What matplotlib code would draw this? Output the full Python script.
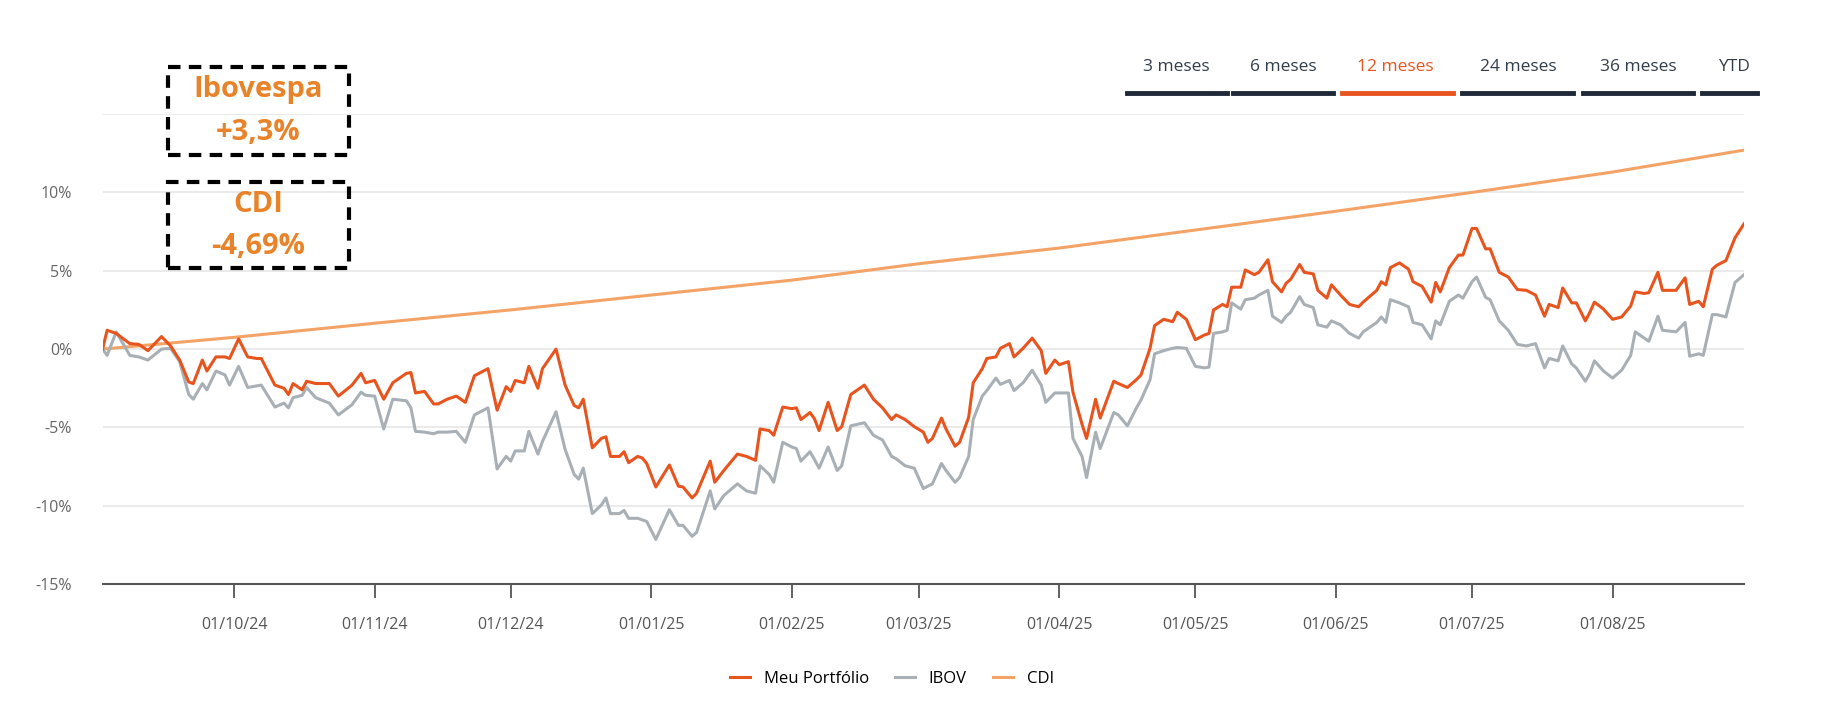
import matplotlib
matplotlib.use("Agg")
import matplotlib.pyplot as plt
import matplotlib.dates as mdates
import pandas as pd
from matplotlib.patches import Rectangle

plt.rcParams['font.family'] = ['Open Sans', 'DejaVu Sans']

dates = ["2024-09-02","2024-09-03","2024-09-05","2024-09-08","2024-09-10","2024-09-12","2024-09-15","2024-09-17","2024-09-19","2024-09-21",
"2024-09-22","2024-09-24","2024-09-25","2024-09-27","2024-09-29","2024-09-30","2024-10-02","2024-10-04","2024-10-06","2024-10-07",
"2024-10-10","2024-10-12","2024-10-13","2024-10-14","2024-10-16","2024-10-17","2024-10-19","2024-10-22","2024-10-24","2024-10-27",
"2024-10-29","2024-10-30","2024-11-01","2024-11-03","2024-11-05","2024-11-08","2024-11-09","2024-11-10","2024-11-12","2024-11-14",
"2024-11-15","2024-11-17","2024-11-19","2024-11-21","2024-11-23","2024-11-26","2024-11-28","2024-11-30","2024-12-01","2024-12-02",
"2024-12-04","2024-12-05","2024-12-07","2024-12-08","2024-12-11","2024-12-13","2024-12-15","2024-12-16","2024-12-17","2024-12-19",
"2024-12-21","2024-12-22","2024-12-23","2024-12-25","2024-12-26","2024-12-27","2024-12-29","2024-12-30","2024-12-31","2025-01-02",
"2025-01-05","2025-01-07","2025-01-08","2025-01-10","2025-01-11","2025-01-14","2025-01-15","2025-01-17","2025-01-20","2025-01-22",
"2025-01-24","2025-01-25","2025-01-27","2025-01-28","2025-01-30","2025-02-01","2025-02-02","2025-02-03","2025-02-05","2025-02-06",
"2025-02-07","2025-02-09","2025-02-11","2025-02-12","2025-02-14","2025-02-17","2025-02-19","2025-02-21","2025-02-23","2025-02-24",
"2025-02-26","2025-02-28","2025-03-02","2025-03-03","2025-03-04","2025-03-06","2025-03-07","2025-03-09","2025-03-10","2025-03-12",
"2025-03-13","2025-03-15","2025-03-16","2025-03-18","2025-03-19","2025-03-21","2025-03-22","2025-03-24","2025-03-26","2025-03-28",
"2025-03-29","2025-03-31","2025-04-01","2025-04-03","2025-04-04","2025-04-06","2025-04-07","2025-04-09","2025-04-10","2025-04-13",
"2025-04-14","2025-04-16","2025-04-18","2025-04-19","2025-04-21","2025-04-22","2025-04-24","2025-04-26","2025-04-27","2025-04-29",
"2025-05-01","2025-05-03","2025-05-04","2025-05-05","2025-05-07","2025-05-08","2025-05-09","2025-05-11","2025-05-12","2025-05-14",
"2025-05-15","2025-05-17","2025-05-18","2025-05-20","2025-05-21","2025-05-22","2025-05-24","2025-05-25","2025-05-27","2025-05-28",
"2025-05-30","2025-05-31","2025-06-02","2025-06-04","2025-06-06","2025-06-07","2025-06-10","2025-06-11","2025-06-12","2025-06-13",
"2025-06-15","2025-06-17","2025-06-18","2025-06-20","2025-06-22","2025-06-23","2025-06-24","2025-06-26","2025-06-28","2025-06-29",
"2025-07-01","2025-07-02","2025-07-04","2025-07-05","2025-07-07","2025-07-09","2025-07-11","2025-07-13","2025-07-15","2025-07-17",
"2025-07-18","2025-07-20","2025-07-21","2025-07-23","2025-07-24","2025-07-26","2025-07-27","2025-07-28","2025-07-30","2025-08-01",
"2025-08-03","2025-08-05","2025-08-06","2025-08-08","2025-08-09","2025-08-11","2025-08-12","2025-08-15","2025-08-17","2025-08-18",
"2025-08-20","2025-08-21","2025-08-23","2025-08-24","2025-08-26","2025-08-28","2025-08-30"]

portfolio = [0,1.2,1.0,0.35,0.3,-0.1,0.8,0.2,-0.7,-2.1,
-2.2,-0.7,-1.4,-0.5,-0.5,-0.6,0.65,-0.5,-0.6,-0.6,
-2.3,-2.5,-2.9,-2.2,-2.6,-2.05,-2.2,-2.2,-3.0,-2.3,
-1.55,-2.15,-2.0,-3.2,-2.15,-1.55,-1.5,-2.8,-2.7,-3.5,
-3.5,-3.2,-3.0,-3.4,-1.7,-1.25,-3.9,-2.4,-2.7,-2.0,
-2.15,-1.1,-2.5,-1.25,0.0,-2.3,-3.6,-3.75,-3.2,-6.3,
-5.7,-5.6,-6.85,-6.85,-6.55,-7.25,-6.85,-6.95,-7.3,-8.8,
-7.4,-8.75,-8.8,-9.5,-9.2,-7.15,-8.5,-7.75,-6.7,-6.85,
-7.1,-5.1,-5.2,-5.5,-3.7,-3.8,-3.75,-4.5,-4.05,-4.45,
-5.2,-3.4,-5.2,-4.95,-2.9,-2.3,-3.2,-3.75,-4.5,-4.2,
-4.5,-4.95,-5.3,-5.95,-5.7,-4.4,-5.1,-6.2,-5.95,-4.35,
-2.15,-1.25,-0.6,-0.5,0.05,0.35,-0.5,0.05,0.7,-0.1,
-1.55,-0.7,-1.0,-0.8,-2.75,-4.8,-5.7,-3.2,-4.4,-2.05,
-2.2,-2.45,-1.95,-1.65,0.05,1.5,1.9,1.75,2.35,1.9,
0.6,0.9,1.0,2.5,2.85,2.7,3.95,3.95,5.05,4.75,
4.9,5.7,4.3,3.65,4.2,4.45,5.4,4.9,4.8,3.75,
3.25,4.1,3.45,2.85,2.7,3.0,3.75,4.3,4.1,5.2,
5.5,5.1,4.3,4.0,3.0,4.25,3.65,5.2,6.0,6.0,
7.7,7.7,6.4,6.4,4.9,4.6,3.8,3.75,3.45,2.1,
2.85,2.65,3.9,2.95,2.95,1.8,2.35,3.0,2.55,1.9,
2.05,2.75,3.65,3.55,3.6,4.9,3.75,3.75,4.55,2.85,
3.05,2.7,5.1,5.35,5.65,7.1,8.0]

ibov = [0,-0.4,1.1,-0.4,-0.5,-0.7,0.0,0.05,-0.8,-2.9,
-3.2,-2.2,-2.6,-1.4,-1.65,-2.3,-1.1,-2.45,-2.35,-2.3,
-3.7,-3.45,-3.75,-3.1,-2.95,-2.45,-3.1,-3.45,-4.2,-3.55,
-2.75,-2.95,-3.0,-5.1,-3.2,-3.3,-3.75,-5.25,-5.3,-5.4,
-5.3,-5.3,-5.25,-5.95,-4.2,-3.75,-7.65,-6.85,-7.15,-6.5,
-6.5,-5.25,-6.7,-5.9,-4.0,-6.4,-8.0,-8.3,-7.6,-10.5,
-9.95,-9.5,-10.5,-10.5,-10.3,-10.8,-10.8,-10.9,-11.0,-12.15,
-10.25,-11.25,-11.25,-11.95,-11.7,-9.05,-10.2,-9.35,-8.6,-9.05,
-9.2,-7.45,-8.0,-8.5,-5.95,-6.25,-6.35,-7.15,-6.55,-7.05,
-7.6,-6.25,-7.75,-7.45,-4.9,-4.7,-5.5,-5.8,-6.85,-7.0,
-7.45,-7.6,-8.9,-8.75,-8.6,-7.3,-7.75,-8.5,-8.2,-6.85,
-4.5,-3.0,-2.65,-1.85,-2.25,-2.0,-2.65,-2.15,-1.35,-2.3,
-3.4,-2.8,-2.8,-2.8,-5.7,-6.85,-8.2,-5.3,-6.35,-4.05,
-4.2,-4.9,-3.75,-3.25,-1.95,-0.3,-0.1,0.05,0.1,0.05,
-1.1,-1.2,-1.15,1.0,1.1,1.2,2.95,2.55,3.15,3.25,
3.45,3.75,2.1,1.7,2.1,2.35,3.35,2.85,2.65,1.55,
1.4,1.8,1.55,1.0,0.7,1.1,1.7,2.05,1.7,3.15,
2.95,2.7,1.7,1.55,0.65,1.8,1.55,3.05,3.45,3.25,
4.3,4.6,3.3,3.15,1.8,1.2,0.3,0.2,0.35,-1.2,
-0.6,-0.75,0.2,-0.95,-1.2,-2.05,-1.55,-0.75,-1.4,-1.85,
-1.35,-0.4,1.1,0.7,0.5,2.1,1.2,1.1,1.7,-0.45,
-0.3,-0.4,2.2,2.2,2.05,4.25,4.75]

cdi_dates = ["2024-09-02","2024-10-01","2024-11-01","2024-12-01","2025-01-01","2025-02-01","2025-03-01",
             "2025-04-01","2025-05-01","2025-06-01","2025-07-01","2025-08-01","2025-08-30"]
cdi = [0,0.75,1.65,2.5,3.45,4.4,5.45,6.45,7.6,8.8,10.0,11.3,12.7]

tick_dates = ["2024-10-01","2024-11-01","2024-12-01","2025-01-01","2025-02-01","2025-03-01",
              "2025-04-01","2025-05-01","2025-06-01","2025-07-01","2025-08-01"]
y_ticks = [-15,-10,-5,0,5,10]
y_grid = [-10,-5,0,5,10,15]
periods = ["3 meses","6 meses","12 meses","24 meses","36 meses","YTD"]
active_period = "12 meses"
box_texts = [("Ibovespa","+3,3%"),("CDI","-4,69%")]

C_PORT = "#E8541E"; C_IBOV = "#A8B0B6"; C_CDI = "#F4A366"; C_BOX = "#E8832A"

fig = plt.figure(figsize=(18.32,7.22), dpi=100)
ax = fig.add_axes([0.056,0.191,0.896,0.651])
d = pd.to_datetime(dates)
ax.plot(d, ibov, color=C_IBOV, lw=2.2, label="IBOV", zorder=3)
ax.plot(d, portfolio, color=C_PORT, lw=2.2, label="Meu Portfólio", zorder=4)
ax.plot(pd.to_datetime(cdi_dates), cdi, color=C_CDI, lw=2.2, label="CDI", zorder=2)

ax.set_xlim(pd.Timestamp("2024-09-02"), pd.Timestamp("2025-08-30"))
ax.set_ylim(-15,15)
for g in y_grid:
    ax.axhline(g, color="#E6E6E6", lw=1.2, zorder=0)
ax.set_yticks(y_ticks)
ax.set_yticklabels([f"{v}%" for v in y_ticks], color="#666666", fontsize=11.5)
ax.set_xticks(pd.to_datetime(tick_dates))
ax.xaxis.set_major_formatter(mdates.DateFormatter("%d/%m/%y"))
ax.tick_params(axis='x', colors="#555555", labelsize=11.5, length=10, width=1.3, pad=14, color="#555555")
ax.tick_params(axis='y', length=0, pad=22)
for s in ["top","right","left"]:
    ax.spines[s].set_visible(False)
ax.spines["bottom"].set_color("#555555"); ax.spines["bottom"].set_linewidth(1.5)

W, H = 1832, 722
centers = [1176,1283,1395,1518,1638,1734]
spans = [(1127,1227),(1233,1333),(1342,1453),(1462,1573),(1583,1693),(1702,1757)]
for lab, c, (a,b) in zip(periods, centers, spans):
    col = C_PORT if lab == active_period else "#333D4A"
    fig.text(c/W, 1-67/H, lab, ha="center", va="center", fontsize=12.5, color=col, fontweight="medium")
    fig.add_artist(plt.Line2D([a/W,b/W],[1-93/H,1-93/H], color=(C_PORT if lab==active_period else "#1F2937"), lw=3.5))

for (t1,t2), (y0,y1) in zip(box_texts, [(67,155),(182,268)]):
    fig.add_artist(Rectangle((168/W, 1-y1/H), 181/W, (y1-y0)/H, fill=False, ls=(0,(3,2)), lw=3, ec="black"))
    fig.text(258/W, 1-(y0+22)/H, t1, ha="center", va="center", fontsize=21, fontweight="bold", color=C_BOX)
    fig.text(258/W, 1-(y1-22)/H, t2, ha="center", va="center", fontsize=21, fontweight="bold", color=C_BOX)

h, l = ax.get_legend_handles_labels()
order = [1,0,2]
fig.legend([h[i] for i in order],[l[i] for i in order], loc="center", bbox_to_anchor=(892/W, 1-679/H),
           ncol=3, frameon=False, fontsize=12, handlelength=1.2, columnspacing=1.6)
fig.savefig("out.png", dpi=100, facecolor="white")
